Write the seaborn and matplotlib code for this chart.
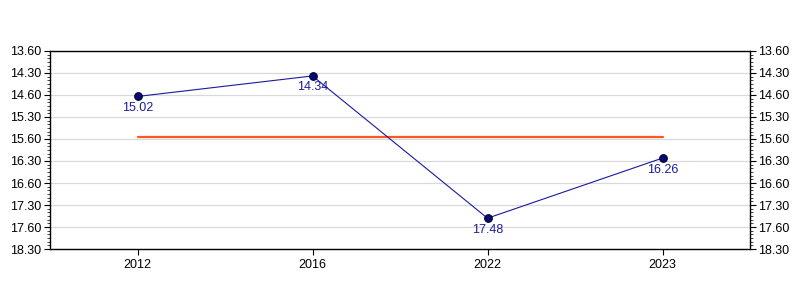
import matplotlib
matplotlib.use("Agg")
import matplotlib.pyplot as plt
from matplotlib.ticker import FixedLocator, MultipleLocator
import seaborn as sns
import pandas as pd
import numpy as np

# Data (times shown as minutes.seconds)
years = ["2012", "2016", "2022", "2023"]
time_labels = ["15.02", "14.34", "17.48", "16.26"]
# y-axis tick labels (as printed on the chart)
ytick_labels = ["13.60", "14.30", "14.60", "15.30", "15.60",
                "16.30", "16.60", "17.30", "17.60", "18.30"]

def to_seconds(s):
    m, sec = s.split(".")
    return int(m) * 60 + int(sec)

secs = [to_seconds(t) for t in time_labels]
ytick_secs = [to_seconds(t) for t in ytick_labels]
mean_secs = float(np.mean(secs))

pos = np.arange(len(years))
df = pd.DataFrame({"pos": pos, "secs": secs, "label": time_labels})
mean_df = pd.DataFrame({"pos": [pos[0], pos[-1]], "secs": [mean_secs, mean_secs]})

sns.set_style("white")
plt.rcParams["font.family"] = ["Liberation Sans", "DejaVu Sans"]

fig = plt.figure(figsize=(8, 3), dpi=100)
ax = fig.add_axes([0.0625, 0.17, 0.875, 0.66])

sns.lineplot(data=mean_df, x="pos", y="secs", color="#ff5722", linewidth=1.6,
             ax=ax, zorder=2)
sns.lineplot(data=df, x="pos", y="secs", color="#1a1a9c", linewidth=0.8,
             marker="o", markersize=5.5, markerfacecolor="#0a0a6e",
             markeredgecolor="#000040", markeredgewidth=0.8, ax=ax, zorder=3)

for p, s, lab in zip(pos, secs, time_labels):
    ax.annotate(lab, (p, s), xytext=(0, -4),
                textcoords="offset points", ha="center", va="top",
                fontsize=9, color="#1c1ca0")

ax.set_xlim(-0.5, len(years) - 0.5)
ax.set_xticks(pos)
ax.set_xticklabels(years)
ax.set_ylim(ytick_secs[-1], ytick_secs[0])
ax.yaxis.set_major_locator(FixedLocator(ytick_secs))
ax.set_yticklabels(ytick_labels)
ax.yaxis.set_minor_locator(MultipleLocator(5))
ax.grid(axis="y", color="#d9d9d9", linewidth=0.9)
ax.set_axisbelow(True)
ax.set_xlabel("")
ax.set_ylabel("")

for sp in ax.spines.values():
    sp.set_visible(True)
    sp.set_color("black")
    sp.set_linewidth(1.0)

ax.tick_params(axis="y", which="major", left=True, right=True, labelleft=True,
               labelright=True, length=4, width=0.8, direction="out",
               labelsize=9, colors="black", pad=2)
ax.tick_params(axis="y", which="minor", left=True, right=True, length=2.5,
               width=0.6, direction="out")
ax.tick_params(axis="x", which="major", bottom=True, length=4, width=0.8,
               direction="out", labelsize=9, colors="black", pad=3)
ax.tick_params(axis="x", which="minor", bottom=False)

fig.savefig("out.png", dpi=100)
